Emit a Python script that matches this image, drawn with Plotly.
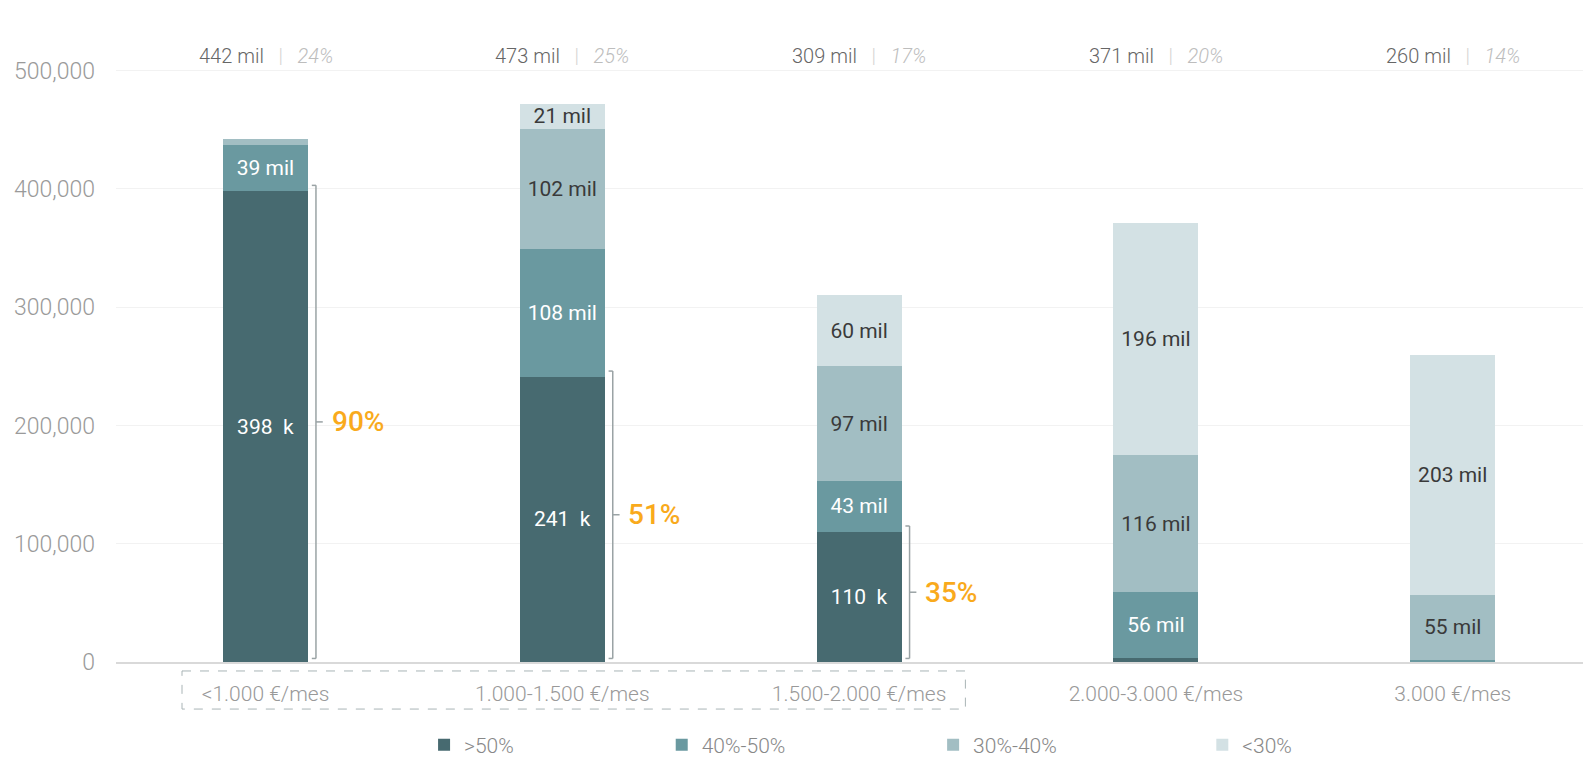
import plotly.graph_objects as go

categories = ["<1.000 €/mes", "1.000-1.500 €/mes", "1.500-2.000 €/mes", "2.000-3.000 €/mes", "3.000 €/mes"]
series_names = [">50%", "40%-50%", "30%-40%", "<30%"]
over50 = [398, 241, 110, 3, 0]
s40_50 = [39, 108, 43, 56, 2]
s30_40 = [5, 102, 97, 116, 55]
under30 = [0, 21, 60, 196, 203]
totals = [442, 473, 309, 371, 260]
shares = [24, 25, 17, 20, 14]
bracket_pcts = ["90%", "51%", "35%"]
y_ticks = [0, 100000, 200000, 300000, 400000, 500000]

colors = ["#476a70", "#6a99a0", "#a2bec3", "#d3e1e4"]
label_colors = ["#ffffff", "#ffffff", "#3a3a3a", "#3a3a3a"]
FONT = "Roboto"

x = list(range(len(categories)))
bar_w = 0.286
legend_ids = ["legend", "legend2", "legend3", "legend4"]
legend_x = [0.210, 0.372, 0.557, 0.7405]

fig = go.Figure()
series = [over50, s40_50, s30_40, under30]
for i, (name, vals) in enumerate(zip(series_names, series)):
    if i == 0:
        txt = [f"{v}  k" if v >= 20 else "" for v in vals]
    else:
        txt = [f"{v} mil" if v >= 20 else "" for v in vals]
    fig.add_trace(go.Bar(
        x=x, y=[v * 1000 for v in vals], name=name, width=bar_w,
        marker=dict(color=colors[i], line=dict(width=0)),
        text=txt, textposition="inside", insidetextanchor="middle",
        textfont=dict(family=FONT, size=21, color=label_colors[i]),
        hoverinfo="skip", legend=legend_ids[i],
    ))

# top total labels
for i, (t, s) in enumerate(zip(totals, shares)):
    fig.add_annotation(
        x=i, y=512000, xref="x", yref="y", showarrow=False,
        text=f"{t} mil   <span style='color:#d4d4d4'>|</span>   <i><span style='color:#bdbdbd'>{s}%</span></i>",
        font=dict(family=FONT, size=20, color="#666666", weight=300),
        xanchor="center", yanchor="middle",
    )

# brackets
half = bar_w / 2
for i, p in enumerate(bracket_pcts):
    top = over50[i] * 1000 + 5000
    bot = 3000
    mid = (top + bot) / 2
    bx = i + half + 0.027
    lx = i + half + 0.013
    mx = i + half + 0.05
    line = dict(color="#9aa3a5", width=1.5)
    fig.add_shape(type="line", x0=bx, x1=bx, y0=bot, y1=top, xref="x", yref="y", line=line)
    fig.add_shape(type="line", x0=lx, x1=bx, y0=top, y1=top, xref="x", yref="y", line=line)
    fig.add_shape(type="line", x0=lx, x1=bx, y0=bot, y1=bot, xref="x", yref="y", line=line)
    fig.add_shape(type="line", x0=bx, x1=mx, y0=mid, y1=mid, xref="x", yref="y", line=line)
    fig.add_annotation(
        x=i + half + 0.073, y=mid, xref="x", yref="y", showarrow=False,
        text=p, xanchor="left", yanchor="middle",
        font=dict(family=FONT, size=28, color="#f9aa1c", weight=500),
    )

# dashed box around first three category labels
fig.add_shape(type="rect", xref="paper", yref="paper",
              x0=0.045, x1=0.579, y0=-0.0146, y1=-0.0765,
              line=dict(color="#a9b4b6", width=1, dash="dash"))

legend_common = dict(orientation="h", xanchor="left", y=-0.135, yanchor="middle",
                     font=dict(family=FONT, size=21, color="#888888", weight=300),
                     itemclick=False, itemdoubleclick=False, bgcolor="rgba(0,0,0,0)")
legends = {lid: dict(legend_common, x=lx) for lid, lx in zip(legend_ids, legend_x)}

fig.update_layout(
    barmode="stack",
    width=1583, height=758,
    margin=dict(l=116, r=0, t=47, b=96, autoexpand=False),
    plot_bgcolor="white", paper_bgcolor="white",
    font=dict(family=FONT, color="#888888"),
    uniformtext=dict(minsize=21, mode="show"),
    showlegend=True,
    xaxis=dict(
        tickmode="array", tickvals=x, ticktext=categories,
        range=[-0.5037, 4.439], showgrid=False, zeroline=False,
        showline=True, linecolor="#d9d9d9", linewidth=2, ticks="",
        tickfont=dict(family=FONT, size=21, color="#999999", weight=300),
        ticklabelstandoff=12,
    ),
    yaxis=dict(
        range=[0, 520000], tickmode="array", tickvals=y_ticks, tickformat=",",
        showgrid=True, gridcolor="#f2f2f2", gridwidth=1, zeroline=False,
        showline=False, ticks="",
        tickfont=dict(family=FONT, size=23, color="#9a9a9a", weight=300),
        ticklabelstandoff=20,
    ),
    **legends,
)

fig.write_html("out.html", config={"displayModeBar": False},
               post_script="document.body.style.margin='0';document.body.style.overflow='hidden';")
